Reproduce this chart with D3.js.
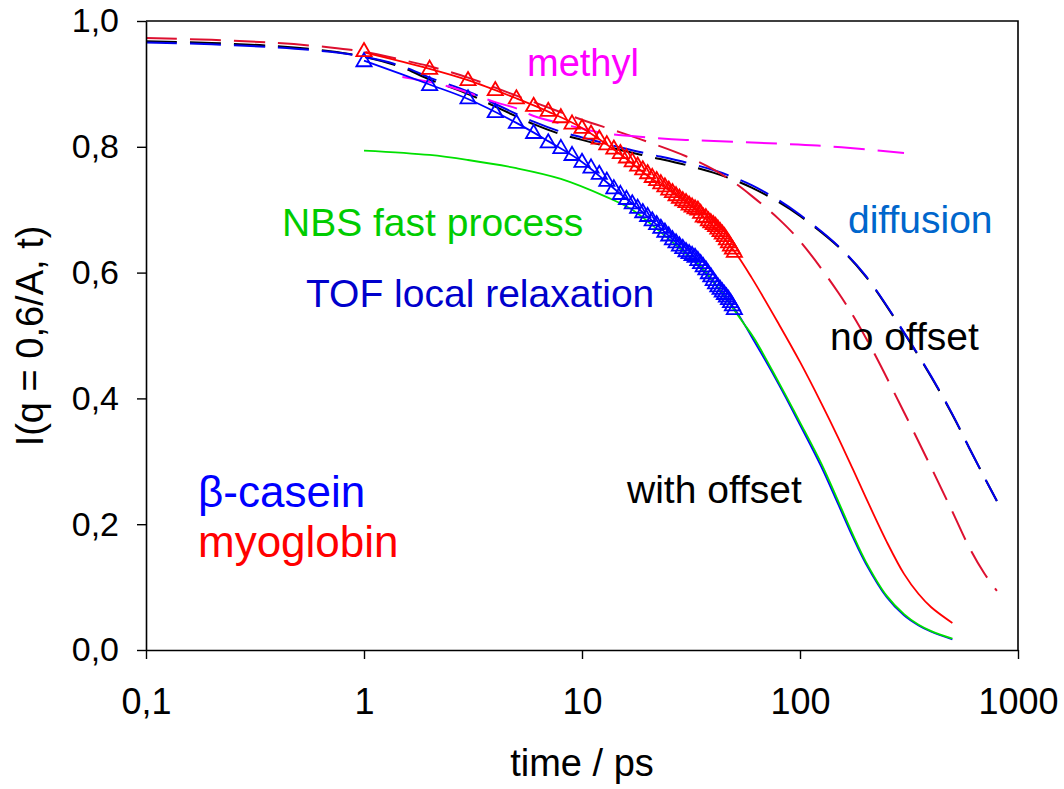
<!DOCTYPE html>
<html>
<head>
<meta charset="utf-8">
<script src="https://cdn.jsdelivr.net/npm/d3@7"></script>
<style>
  html, body { margin: 0; padding: 0; background: #fff; }
  svg { display: block; font-family: "Liberation Sans", Arial, sans-serif; }
</style>
</head>
<body>
<svg id="chart" width="1064" height="789"></svg>
<script>
// ---------- data ----------
const xTicks = [0.1, 1, 10, 100, 1000];
const xTickLabels = ["0,1", "1", "10", "100", "1000"];
const yTicks = [0, 0.2, 0.4, 0.6, 0.8, 1.0];
const yTickLabels = ["0,0", "0,2", "0,4", "0,6", "0,8", "1,0"];

// measured points (time in ps)
const triTime = [1,2,3,4,5,6,7,8,9,10,11,12,13,14,15,16,17,18,19,20,21,22,23,24,25,26,27,28,29,30,31,32,33,34,35,36,37,38,39,40,41,42,43,44,45,46,47,48,49,50];
const myoglobinData = [0.951,0.923,0.905,0.889,0.876,0.864,0.856,0.846,0.836,0.829,0.820,0.812,0.803,0.796,0.789,0.782,0.776,0.769,0.763,0.757,0.751,0.746,0.741,0.736,0.731,0.727,0.722,0.718,0.714,0.711,0.707,0.704,0.701,0.699,0.694,0.688,0.687,0.682,0.679,0.676,0.673,0.669,0.665,0.661,0.657,0.652,0.647,0.642,0.637,0.632];
const caseinData = [0.935,0.897,0.876,0.854,0.837,0.821,0.806,0.797,0.786,0.775,0.766,0.756,0.745,0.733,0.724,0.716,0.709,0.702,0.695,0.689,0.682,0.676,0.670,0.664,0.658,0.652,0.647,0.642,0.638,0.633,0.630,0.627,0.624,0.619,0.614,0.609,0.604,0.598,0.593,0.587,0.582,0.577,0.573,0.569,0.565,0.561,0.557,0.552,0.547,0.541];

// "no offset" diffusion curves (dashed)
const dashTime = [0.1,0.2,0.4,0.7,1,1.5,2,3,4,6,8,10,15,20,30,40,50,60,80,100,150,200,300,400,500,600,700,800];
const myoglobinNoOffset = [0.973,0.970,0.965,0.958,0.951,0.938,0.928,0.910,0.894,0.871,0.855,0.843,0.823,0.808,0.785,0.764,0.743,0.722,0.685,0.650,0.568,0.497,0.378,0.290,0.220,0.162,0.122,0.094];
const caseinNoOffset   = [0.966,0.963,0.958,0.951,0.943,0.928,0.910,0.888,0.868,0.840,0.824,0.815,0.799,0.789,0.775,0.763,0.751,0.739,0.715,0.692,0.642,0.595,0.505,0.435,0.375,0.320,0.275,0.237];
const caseinNoOffsetB  = [0.968,0.965,0.960,0.952,0.943,0.926,0.907,0.884,0.864,0.836,0.820,0.811,0.795,0.785,0.771,0.759,0.747,0.735,0.712,0.690,0.641,0.594,0.504,0.434,0.374,0.320,0.275,0.237];

// methyl (dashed magenta)
const methylTime = [1.5,2,2.5,3,4,5,6,8,10,13,20,30,50,80,120,200,300];
const methylVals = [0.911,0.903,0.895,0.886,0.871,0.861,0.849,0.837,0.829,0.821,0.815,0.811,0.808,0.805,0.802,0.796,0.790];

// "with offset" fits (solid)
const fitTime = [1,2,3,5,7,10,15,20,30,40,50,60,80,100,125,150,175,200,250,300,350,400,500];
const myoglobinFit = [0.950,0.924,0.906,0.877,0.856,0.830,0.788,0.754,0.712,0.674,0.634,0.592,0.518,0.458,0.393,0.337,0.287,0.243,0.172,0.121,0.089,0.068,0.043];
const caseinFit    = [0.937,0.899,0.876,0.838,0.809,0.776,0.725,0.689,0.632,0.585,0.543,0.498,0.422,0.358,0.292,0.231,0.179,0.138,0.084,0.055,0.039,0.029,0.017];

// NBS fast process (green)
const nbsTime = [1,2,3,5,8,13,17,23,30,35,40,47,55,62,80,100,125,150,175,200,250,300,350,400,500];
const nbsVals = [0.794,0.787,0.779,0.766,0.749,0.720,0.700,0.664,0.630,0.610,0.586,0.553,0.520,0.494,0.425,0.362,0.297,0.236,0.183,0.141,0.086,0.057,0.040,0.030,0.018];

// ---------- chart ----------
(function () {
const svg = d3.select("#chart");
const mLeft = 146, mRight = 1018, mTop = 21, mBottom = 650;

const x = d3.scaleLog().domain([0.1, 1000]).range([mLeft, mRight]);
const y = d3.scaleLinear().domain([0, 1]).range([mBottom, mTop]);

const zip = (ts, vs) => ts.map((t, i) => [t, vs[i]]);
const line = d3.line().x(d => x(d[0])).y(d => y(d[1])).curve(d3.curveCatmullRom.alpha(0.5));

const plot = svg.append("g");
const DASH = "31,13";

function drawLine(ts, vs, color, width, dash) {
  plot.append("path")
    .datum(zip(ts, vs))
    .attr("fill", "none")
    .attr("stroke", color)
    .attr("stroke-width", width)
    .attr("stroke-dasharray", dash || null)
    .attr("d", line);
}

// dashed "no offset" curves
drawLine(dashTime, caseinNoOffsetB, "#000000", 2, DASH);
drawLine(dashTime, caseinNoOffset, "#0000ee", 2, DASH);
drawLine(dashTime, myoglobinNoOffset, "#dd1030", 2, DASH);
drawLine(methylTime, methylVals, "#ff00ff", 2, DASH);

// solid fits
drawLine(fitTime, caseinFit, "#0000ff", 1.8);
drawLine(nbsTime, nbsVals, "#00e000", 1.8);
drawLine(fitTime, myoglobinFit, "#ff0000", 1.8);

// triangles
const tri = d3.symbol().type(d3.symbolTriangle).size(100);
function drawTri(vs, color) {
  plot.append("g").selectAll("path")
    .data(zip(triTime, vs))
    .join("path")
    .attr("d", tri)
    .attr("transform", d => `translate(${x(d[0])},${y(d[1])})`)
    .attr("fill", "none")
    .attr("stroke", color)
    .attr("stroke-width", 1.8);
}
drawTri(caseinData, "#0000ff");
drawTri(myoglobinData, "#ff0000");

// ---------- axes ----------
const xAxis = d3.axisBottom(x)
  .tickValues(xTicks)
  .tickFormat((d, i) => xTickLabels[i])
  .tickSize(9).tickSizeOuter(0).tickPadding(29);
const yAxis = d3.axisLeft(y)
  .tickValues(yTicks)
  .tickFormat((d, i) => yTickLabels[i])
  .tickSize(9).tickSizeOuter(0).tickPadding(18);

const gx = svg.append("g").attr("transform", `translate(0,${mBottom})`).call(xAxis);
const gy = svg.append("g").attr("transform", `translate(${mLeft},0)`).call(yAxis);
[gx, gy].forEach(g => {
  g.selectAll("path.domain").attr("stroke", "#000").attr("stroke-width", 1.6);
  g.selectAll(".tick line").attr("stroke", "#000").attr("stroke-width", 1.4);
  g.selectAll(".tick text").attr("fill", "#000").attr("font-family", "Liberation Sans, Arial, sans-serif");
});
gx.selectAll(".tick text").attr("font-size", 36);
gy.selectAll(".tick text").attr("font-size", 34);

// frame (top + right)
svg.append("path")
  .attr("d", `M${mLeft},${mTop}H${mRight}V${mBottom}`)
  .attr("fill", "none").attr("stroke", "#000").attr("stroke-width", 1.6);

// axis titles
svg.append("text")
  .attr("x", (mLeft + mRight) / 2).attr("y", 776)
  .attr("text-anchor", "middle").attr("font-size", 38)
  .text("time / ps");
svg.append("text")
  .attr("transform", "translate(43,336) rotate(-90)")
  .attr("text-anchor", "middle").attr("font-size", 38)
  .text("I(q = 0,6/A, t)");

// annotations
const notes = [
  { text: "methyl", x: 527, y: 76, size: 38, color: "#ff00ff" },
  { text: "NBS fast process", x: 282, y: 236, size: 39, color: "#00cc00" },
  { text: "TOF local relaxation", x: 306, y: 307, size: 39, color: "#0000cc" },
  { text: "diffusion", x: 848, y: 233, size: 39, color: "#0066cc" },
  { text: "no offset", x: 830, y: 350, size: 39, color: "#000000" },
  { text: "with offset", x: 627, y: 503, size: 39, color: "#000000" },
  { text: "\u03b2-casein", x: 198, y: 507, size: 44, color: "#0000ff" },
  { text: "myoglobin", x: 198, y: 557, size: 44, color: "#ff0000" }
];
svg.append("g").selectAll("text")
  .data(notes)
  .join("text")
  .attr("x", d => d.x).attr("y", d => d.y)
  .attr("font-size", d => d.size)
  .attr("fill", d => d.color)
  .text(d => d.text);
})();
</script>
</body>
</html>
